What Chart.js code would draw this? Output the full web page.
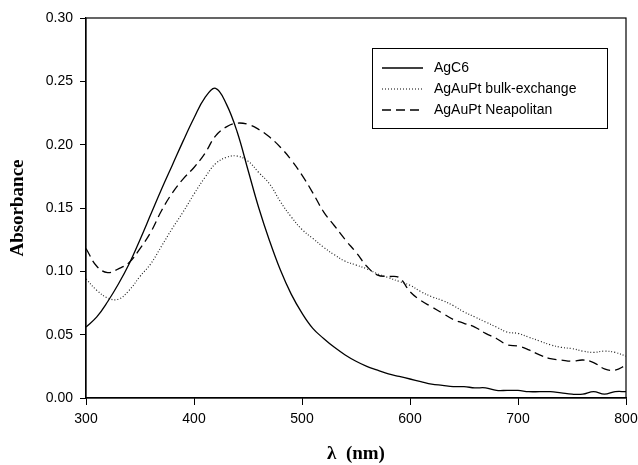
<!DOCTYPE html>
<html>
<head>
<meta charset="utf-8">
<script src="https://cdn.jsdelivr.net/npm/chart.js@4/dist/chart.umd.min.js"></script>
<style>
html,body{margin:0;padding:0;background:#fff;}
#wrap{width:638px;height:465px;position:relative;}
</style>
</head>
<body>
<div id="wrap"><canvas id="c" width="638" height="465"></canvas></div>
<script>
const wavelengths = [300,310,320,330,340,350,360,370,380,390,400,410,420,430,440,450,460,470,480,490,500,510,520,530,540,550,560,570,580,590,600,610,620,630,640,650,660,670,680,690,700,710,720,730,740,750,760,770,780,790,800];
const agC6 = [0.056,0.064,0.076,0.090,0.106,0.125,0.145,0.165,0.184,0.203,0.221,0.237,0.2445,0.232,0.210,0.180,0.150,0.124,0.101,0.082,0.067,0.055,0.047,0.040,0.034,0.029,0.025,0.022,0.019,0.017,0.015,0.013,0.011,0.010,0.009,0.009,0.008,0.008,0.006,0.006,0.006,0.005,0.005,0.005,0.004,0.003,0.003,0.005,0.003,0.005,0.005];
const bulkExchange = [0.094,0.085,0.079,0.078,0.085,0.096,0.106,0.120,0.134,0.147,0.161,0.174,0.185,0.190,0.191,0.187,0.178,0.169,0.155,0.143,0.133,0.126,0.119,0.113,0.108,0.105,0.102,0.098,0.095,0.092,0.089,0.084,0.080,0.077,0.073,0.068,0.064,0.060,0.056,0.052,0.051,0.048,0.045,0.042,0.040,0.039,0.037,0.036,0.037,0.036,0.033];
const neapolitan = [0.118,0.104,0.099,0.102,0.107,0.118,0.131,0.148,0.162,0.173,0.182,0.193,0.207,0.214,0.217,0.216,0.212,0.206,0.198,0.188,0.176,0.162,0.147,0.136,0.125,0.115,0.104,0.097,0.096,0.095,0.084,0.077,0.072,0.067,0.062,0.059,0.056,0.051,0.047,0.042,0.041,0.038,0.034,0.031,0.030,0.029,0.030,0.028,0.023,0.022,0.026];
const seriesLabels = ['AgC6','AgAuPt bulk-exchange','AgAuPt Neapolitan'];
const xTicks = [300,400,500,600,700,800];
const yTicks = [0,0.05,0.10,0.15,0.20,0.25,0.30];

const toPts = arr => arr.map((v,i)=>({x:wavelengths[i], y:v}));

const framePlugin = {
  id:'frame',
  afterDatasetsDraw(chart){
    const {ctx, chartArea:a} = chart;
    ctx.save();
    ctx.strokeStyle='#000'; ctx.lineWidth=1.2;
    ctx.strokeRect(a.left, a.top, a.right-a.left, a.bottom-a.top);
    // legend
    const lx = a.left + 286, ly = a.top + 30, lw = 235, lh = 80;
    ctx.fillStyle='#fff';
    ctx.fillRect(lx,ly,lw,lh);
    ctx.lineWidth=1;
    ctx.strokeRect(lx+0.5,ly+0.5,lw,lh);
    ctx.font='14px "Liberation Sans", Arial, sans-serif';
    ctx.textBaseline='middle';
    chart.data.datasets.forEach((ds,i)=>{
      const y = ly + 20 + i*21;
      ctx.strokeStyle='#000';
      ctx.lineWidth = ds.borderWidth;
      ctx.setLineDash(ds.borderDash||[]);
      ctx.beginPath(); ctx.moveTo(lx+10,y); ctx.lineTo(lx+51,y); ctx.stroke();
      ctx.setLineDash([]);
      ctx.fillStyle='#000';
      ctx.fillText(ds.label, lx+62, y);
    });
    ctx.restore();
  }
};

new Chart(document.getElementById('c'), {
  type:'line',
  data:{
    datasets:[
      {label:seriesLabels[0], data:toPts(agC6), borderColor:'#000', borderWidth:1.3, pointRadius:0, tension:0.4, fill:false},
      {label:seriesLabels[1], data:toPts(bulkExchange), borderColor:'#222', borderWidth:1.2, borderDash:[1,2], pointRadius:0, tension:0.4, fill:false},
      {label:seriesLabels[2], data:toPts(neapolitan), borderColor:'#000', borderWidth:1.3, borderDash:[9,5], pointRadius:0, tension:0.4, fill:false}
    ]
  },
  options:{
    responsive:false,
    animation:false,
    devicePixelRatio:1,
    layout:{padding:{left:0,right:12,top:18,bottom:0}},
    plugins:{legend:{display:false}, tooltip:{enabled:false}},
    scales:{
      x:{
        type:'linear', min:300, max:800,
        afterBuildTicks(s){ s.ticks = xTicks.map(v=>({value:v})); },
        afterFit(s){ s.height = 67; s.paddingRight = 0; s.paddingLeft = 0; },
        grid:{display:true, drawOnChartArea:false, drawTicks:true, tickLength:7, color:'#000'},
        border:{display:true, color:'#000', width:1.2},
        ticks:{color:'#000', padding:6, maxRotation:0, font:{family:'"Liberation Sans", Arial, sans-serif', size:14}, callback:v=>String(v)},
        title:{display:true, text:'λ  (nm)', color:'#000', padding:{top:0,bottom:0}, font:{family:'"Liberation Serif","Times New Roman",serif', size:19, weight:'bold'}}
      },
      y:{
        type:'linear', min:0, max:0.30,
        afterBuildTicks(s){ s.ticks = yTicks.map(v=>({value:v})); },
        afterFit(s){ s.width = 86; s.paddingTop = 0; s.paddingBottom = 0; },
        grid:{display:true, drawOnChartArea:false, drawTicks:true, tickLength:6, color:'#000'},
        border:{display:true, color:'#000', width:1.2},
        ticks:{color:'#000', padding:7, font:{family:'"Liberation Sans", Arial, sans-serif', size:14}, callback:v=>v.toFixed(2)},
        title:{display:true, text:'Absorbance', color:'#000', padding:{top:7,bottom:0}, font:{family:'"Liberation Serif","Times New Roman",serif', size:19, weight:'bold'}}
      }
    }
  },
  plugins:[framePlugin]
});
</script>
</body>
</html>
